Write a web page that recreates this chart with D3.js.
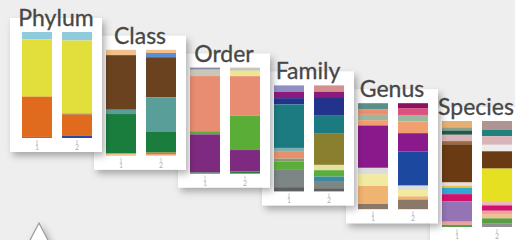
<!DOCTYPE html>
<html>
<head>
<meta charset="utf-8">
<script src="https://cdn.jsdelivr.net/npm/d3@7"></script>
<style>
  html, body { margin: 0; padding: 0; background: #eeeeee; }
  svg { display: block; }
</style>
</head>
<body>
<svg id="canvas" width="515" height="240"></svg>
<script>
// Niveles taxonomicos y muestras
const levels = ["Phylum", "Class", "Order", "Family", "Genus", "Species"];
const samples = ["1", "2"];

// Cada nivel: colores de arriba hacia abajo y porcentajes por muestra
const phylumColors  = ["#8fcbdc", "#e2df3c", "#a07040", "#e06b1f", "#8a6aa0", "#2a4aa0"];
const phylumSample1 = [7, 54, 0, 38, 1, 0];
const phylumSample2 = [8, 69, 1, 20, 0, 2];

const classColors  = ["#f2c08c", "#5b8fd0", "#6a4220", "#5a9e9a", "#1a7d3e", "#e87030", "#f5c490"];
const classSample1 = [5, 0, 51, 4, 37, 0, 2];
const classSample2 = [3, 4, 38, 32, 20, 2, 1];

const orderColors  = ["#8a88a8", "#c8c8b8", "#f0e68c", "#e98d72", "#5aae38", "#7e2a80", "#2a7a3a"];
const orderSample1 = [2, 6, 0, 52, 3, 36, 1];
const orderSample2 = [0, 3, 5, 37, 32, 20, 2];

const familyColors  = ["#8f8fc4", "#d49090", "#8c1a7c", "#23338c", "#1b7b80", "#8a7f2e", "#7fb0b0",
                       "#e8906c", "#e8e0a0", "#8a9a70", "#5bae3a", "#3a8aa0", "#7d8585", "#5e6060"];
const familySample1 = [6, 0, 6, 6, 41, 0, 3, 7, 0, 3, 7, 0, 17, 4];
const familySample2 = [0, 6, 5, 17, 17, 30, 0, 0, 5, 0, 6, 5, 6, 3];

const genusColors  = ["#5a8f8a", "#8e1060", "#e0507e", "#e89070", "#9ab8a0", "#f0a070", "#8a1a8c",
                      "#1c48a0", "#dcdcdc", "#f2eaa0", "#f0b472", "#8a7868"];
const genusSample1 = [6, 0, 0, 5, 5, 5, 40, 0, 6, 11, 17, 5];
const genusSample2 = [0, 5, 6, 0, 6, 11, 17, 32, 4, 6, 3, 9];

const speciesColors  = ["#e8b070", "#b09494", "#8aa088", "#1f5a48", "#1f827c", "#d8b4b8", "#ececec",
                        "#9a6a40", "#6a3a12", "#e8e0d8", "#e6e022", "#e8c050", "#30a8d2", "#f0b0c0",
                        "#d0126c", "#9474b4", "#f0a0a0", "#f0c090", "#5a9e44", "#909090"];
const speciesSample1 = [6, 0, 3, 4, 0, 6, 0, 3, 36, 3, 0, 2, 6, 0, 7, 19, 3, 0, 2, 0];
const speciesSample2 = [0, 8, 0, 0, 6, 8, 6, 0, 16, 0, 31, 0, 0, 3, 5, 0, 3, 4, 5, 3];

const panels = [
    { colors: phylumColors,  values: [phylumSample1,  phylumSample2] },
    { colors: classColors,   values: [classSample1,   classSample2] },
    { colors: orderColors,   values: [orderSample1,   orderSample2] },
    { colors: familyColors,  values: [familySample1,  familySample2] },
    { colors: genusColors,   values: [genusSample1,   genusSample2] },
    { colors: speciesColors, values: [speciesSample1, speciesSample2] }
];

const svg = d3.select("#canvas");
const ancho = 515, alto = 240;
const cardW = 92, cardH = 134;
const stepX = 84, stepY = 17.8;

svg.append("rect").attr("width", ancho).attr("height", alto).attr("fill", "#eeeeee");

// Sombra de las tarjetas
const defs = svg.append("defs");
const filtro = defs.append("filter").attr("id", "sombra")
    .attr("x", "-20%").attr("y", "-20%").attr("width", "150%").attr("height", "150%");
filtro.append("feDropShadow")
    .attr("dx", 3).attr("dy", 4).attr("stdDeviation", 3.5)
    .attr("flood-color", "#000").attr("flood-opacity", 0.3);

const x = d3.scaleBand().domain(samples).range([12, 82]).paddingInner(0.25).paddingOuter(0);
const y = d3.scaleLinear().domain([0, 1]).range([14, 120]);

// Se dibuja de la ultima a la primera: las primeras tarjetas quedan encima
d3.range(levels.length - 1, -1, -1).forEach(i => {
    const panel = panels[i];
    const keys = panel.colors.map((c, k) => k);
    const filas = samples.map((s, j) => {
        const fila = { muestra: s };
        keys.forEach(k => { fila[k] = panel.values[j][k]; });
        return fila;
    });
    const series = d3.stack().keys(keys).offset(d3.stackOffsetExpand)(filas);

    const g = svg.append("g")
        .attr("transform", `translate(${10 + i * stepX},${18 + i * stepY})`);

    g.append("rect")
        .attr("width", cardW)
        .attr("height", cardH)
        .attr("fill", "#ffffff")
        .attr("filter", "url(#sombra)");

    g.selectAll("g.serie")
        .data(series)
        .enter()
        .append("g")
        .attr("class", "serie")
        .attr("fill", d => panel.colors[d.key])
        .selectAll("rect")
        .data(d => d)
        .enter()
        .append("rect")
        .attr("x", d => x(d.data.muestra))
        .attr("width", x.bandwidth())
        .attr("y", d => y(d[0]))
        .attr("height", d => y(d[1]) - y(d[0]));

    const eje = g.append("g")
        .attr("transform", `translate(0,${y.range()[1] + 2})`)
        .call(d3.axisBottom(x).tickSize(4).tickPadding(1));
    eje.select(".domain").remove();
    eje.selectAll("line").attr("stroke", "#c8c8c8");
    eje.selectAll("text").attr("fill", "#b0b0b0").style("font-size", "7px")
        .style("font-family", "Lato, sans-serif");

    g.append("text")
        .attr("x", cardW / 2)
        .attr("y", 8)
        .attr("text-anchor", "middle")
        .attr("fill", "#474747")
        .attr("stroke", "#474747")
        .attr("stroke-width", 0.3)
        .style("font-family", "Lato, sans-serif")
        .style("font-size", "23px")
        .text(levels[i]);
});

// Triangulo indicador abajo a la izquierda
svg.append("path")
    .attr("d", "M39,223 L27,246 L51,246 Z")
    .attr("fill", "#ffffff")
    .attr("stroke", "#9a9a9a")
    .attr("stroke-width", 1.2)
    .attr("filter", "url(#sombra)");
</script>
</body>
</html>
